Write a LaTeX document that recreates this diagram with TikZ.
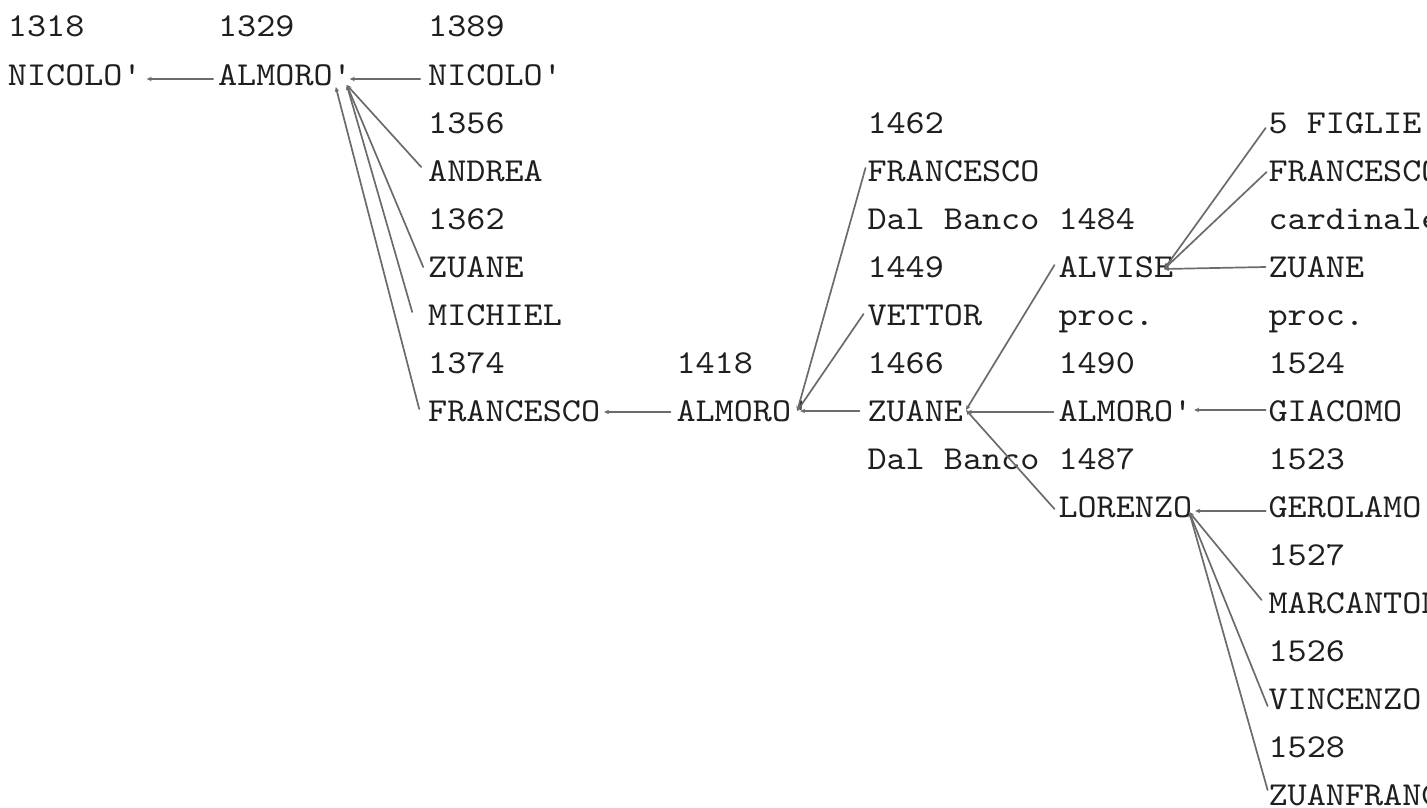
\documentclass[tikz,border=0pt]{standalone}
\usepackage{fontspec}
\newfontfamily\tw{lmmono10-regular.otf}[FakeStretch=1.086,Ligatures=TeXOff]
\usetikzlibrary{arrows.meta}
\begin{document}
\begin{tikzpicture}[x=1pt,y=-1pt,
  t/.style={anchor=base west,inner sep=0pt,outer sep=0pt,font=\tw\fontsize{33.5}{40}\selectfont,text=black!88},
  ln/.style={draw=black!58,line width=1.7pt,line cap=round,{Stealth[length=5pt,width=4.5pt]}-}]
\useasboundingbox (0,0) rectangle (1427,808);
\clip (0,0) rectangle (1427,808);
% column A
\node[t] (yA0) at (8,37) {1318};
\node[t] (nicoloA) at (8,85) {NICOLO'};
% column B
\node[t] (yB0) at (218.1,37) {1329};
\node[t] (almoroB) at (218.1,85) {ALMORO'};
% column C
\node[t] (yC0) at (428.2,37) {1389};
\node[t] (nicoloC) at (428.2,85) {NICOLO'};
\node[t] (yC2) at (428.2,133) {1356};
\node[t] (andreaC) at (428.2,181) {ANDREA};
\node[t] (yC4) at (428.2,229) {1362};
\node[t] (zuaneC) at (428.2,277) {ZUANE};
\node[t] (michielC) at (428.2,325) {MICHIEL};
\node[t] (yC7) at (428.2,373) {1374};
\node[t] (francescoC) at (428.2,421) {FRANCESCO};
% column D
\node[t] (yD7) at (676.5,373) {1418};
\node[t] (almoroD) at (676.5,421) {ALMORO'};
% column E
\node[t] (yE2) at (867.5,133) {1462};
\node[t] (francescoE) at (867.5,181) {FRANCESCO};
\node[t] (dalbancoE4) at (867.5,229) {Dal Banco};
\node[t] (yE5) at (867.5,277) {1449};
\node[t] (vettorE) at (867.5,325) {VETTOR};
\node[t] (yE7) at (867.5,373) {1466};
\node[t] (zuaneE) at (867.5,421) {ZUANE};
\node[t] (dalbancoE9) at (867.5,469) {Dal Banco};
% column F
\node[t] (yF4) at (1058.5,229) {1484};
\node[t] (alviseF) at (1058.5,277) {ALVISE};
\node[t] (procF) at (1058.5,325) {proc.};
\node[t] (yF7) at (1058.5,373) {1490};
\node[t] (almoroF) at (1058.5,421) {ALMORO'};
\node[t] (yF9) at (1058.5,469) {1487};
\node[t] (lorenzoF) at (1058.5,517) {LORENZO};
% column G
\node[t] (figlieG) at (1268.6,133) {5 FIGLIE};
\node[t] (francescoG) at (1268.6,181) {FRANCESCO};
\node[t] (cardinaleG) at (1268.6,229) {cardinale};
\node[t] (zuaneG) at (1268.6,277) {ZUANE};
\node[t] (procG) at (1268.6,325) {proc.};
\node[t] (yG7) at (1268.6,373) {1524};
\node[t] (giacomoG) at (1268.6,421) {GIACOMO};
\node[t] (yG9) at (1268.6,469) {1523};
\node[t] (gerolamoG) at (1268.6,517) {GEROLAMO};
\node[t] (yG11) at (1268.6,565) {1527};
\node[t] (marcantonioG) at (1268.6,613) {MARCANTONIO};
\node[t] (yG13) at (1268.6,661) {1526};
\node[t] (vincenzoG) at (1268.6,709) {VINCENZO};
\node[t] (yG15) at (1268.6,757) {1528};
\node[t] (zuanfrancescoG) at (1268.6,805) {ZUANFRANCESCO};
% junctions (parent ends)
\coordinate (jB) at ([shift={(-5,0)}]almoroB.base east);
\coordinate (jB2) at ([shift={(-16,2)}]almoroB.base east);
\coordinate (jD) at ([shift={(-13,-10)}]almoroD.base east);
\coordinate (jE) at ([shift={(3,-11)}]zuaneE.base east);
\coordinate (jF) at ([shift={(-9,-8)}]alviseF.base east);
\coordinate (jL) at ([shift={(-3,-5)}]lorenzoF.base east);
% connectors, drawn from parent to child, tip at the parent
\draw[ln] ([shift={(5,-6)}]nicoloA.base east) -- ([shift={(-5,-6)}]almoroB.base west);
\draw[ln] ([shift={(-2,-6)}]almoroB.base east) -- ([shift={(-8,-6)}]nicoloC.base west);
\draw[ln] (jB) -- ([shift={(-7,-14)}]andreaC.base west);
\draw[ln] (jB) -- ([shift={(-5,-10)}]zuaneC.base west);
\draw[ln] (jB) -- ([shift={(-16,-13)}]michielC.base west);
\draw[ln] (jB2) -- ([shift={(-9,-12)}]francescoC.base west);
\draw[ln] ([shift={(4,-9)}]francescoC.base east) -- ([shift={(-6,-9)}]almoroD.base west);
\draw[ln] ([shift={(-10,-10)}]almoroD.base east) -- ([shift={(-8,-10)}]zuaneE.base west);
\draw[ln] (jD) -- ([shift={(-4,-11)}]vettorE.base west);
\draw[ln] (jD) -- ([shift={(-2,-13)}]francescoE.base west);
\draw[ln] ([shift={(4,-9)}]zuaneE.base east) -- ([shift={(-5,-9)}]almoroF.base west);
\draw[ln] (jE) -- ([shift={(-4,-12)}]alviseF.base west);
\draw[ln] (jE) -- ([shift={(-4,-8)}]lorenzoF.base west);
\draw[ln] (jF) -- ([shift={(-3,-10)}]zuaneG.base west);
\draw[ln] (jF) -- ([shift={(-2,-9)}]francescoG.base west);
\draw[ln] (jF) -- ([shift={(-3,-5)}]figlieG.base west);
\draw[ln] ([shift={(2,-11)}]almoroF.base east) -- ([shift={(-3,-11)}]giacomoG.base west);
\draw[ln] ([shift={(3,-6)}]lorenzoF.base east) -- ([shift={(-3,-6)}]gerolamoG.base west);
\draw[ln] (jL) -- ([shift={(-7,-13)}]marcantonioG.base west);
\draw[ln] (jL) -- ([shift={(-1,-3)}]vincenzoG.base west);
\draw[ln] (jL) -- ([shift={(-1,-15)}]zuanfrancescoG.base west);
\end{tikzpicture}
\end{document}
